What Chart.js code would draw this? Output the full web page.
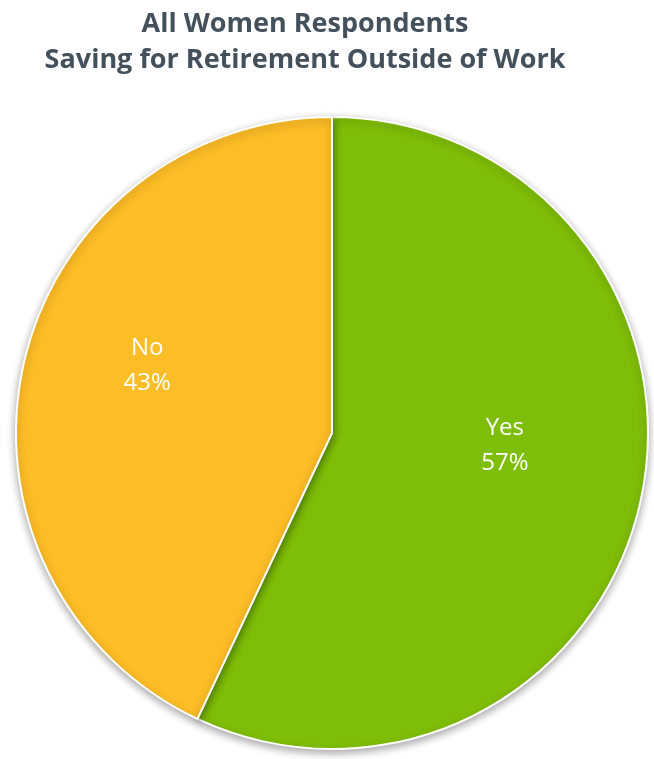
<!DOCTYPE html>
<html>
<head>
<meta charset="utf-8">
<script src="https://cdn.jsdelivr.net/npm/chart.js@4/dist/chart.umd.min.js"></script>
<style>
  html, body { margin: 0; padding: 0; background: #fff; }
  #wrap { width: 654px; height: 759px; }
</style>
</head>
<body>
<div id="wrap"><canvas id="graficaPastel" width="654" height="759"></canvas></div>
<script>
// Datos de la grafica
const etiquetas = ['Yes', 'No'];
const valores = [57, 43];
const colores = ['#7FBE08', '#FDBD27'];
const titulo = ['All Women Respondents', 'Saving for Retirement Outside of Work'];

// Titulo dibujado a mano (va un poco a la izquierda del centro)
const pluginTitulo = {
    id: 'tituloPropio',
    afterDraw(chart) {
        const ctx = chart.ctx;
        ctx.save();
        ctx.fillStyle = '#44505C';
        ctx.font = 'bold 27px "Open Sans"';
        ctx.textAlign = 'center';
        ctx.textBaseline = 'alphabetic';
        titulo.forEach((linea, i) => ctx.fillText(linea, 305, 32 + i * 36));
        ctx.restore();
    }
};

// Sombra debajo del pastel
const pluginSombra = {
    id: 'sombra',
    beforeDatasetsDraw(chart) {
        const ctx = chart.ctx;
        ctx.save();
        ctx.shadowColor = 'rgba(0,0,0,0.35)';
        ctx.shadowBlur = 8;
        ctx.shadowOffsetY = 3;
    },
    afterDatasetsDraw(chart) {
        chart.ctx.restore();
    }
};

// Etiquetas dentro de cada rebanada
const pluginEtiquetas = {
    id: 'etiquetas',
    afterDatasetsDraw(chart) {
        const ctx = chart.ctx;
        const meta = chart.getDatasetMeta(0);
        const total = valores.reduce((a, b) => a + b, 0);
        ctx.save();
        ctx.fillStyle = '#ffffff';
        ctx.font = '24px "Open Sans"';
        ctx.textAlign = 'center';
        ctx.textBaseline = 'middle';
        meta.data.forEach((arc, i) => {
            const p = arc.getProps(['x', 'y', 'startAngle', 'endAngle', 'outerRadius'], true);
            const medio = (p.startAngle + p.endAngle) / 2;
            const r = p.outerRadius * 0.58;
            const cx = p.x + Math.cos(medio) * r - 6;
            const cy = p.y + Math.sin(medio) * r - 28;
            ctx.fillText(etiquetas[i], cx, cy - 17);
            ctx.fillText(Math.round(valores[i] / total * 100) + '%', cx, cy + 18);
        });
        ctx.restore();
    }
};

const graficaPastel = document.getElementById('graficaPastel').getContext('2d');
const chart = new Chart(graficaPastel, {
    type: 'pie',
    data: {
        labels: etiquetas,
        datasets: [{
            data: valores,
            backgroundColor: colores,
            borderColor: '#ffffff',
            borderWidth: 2
        }]
    },
    options: {
        responsive: false,
        animation: false,
        layout: {
            padding: { top: 116, bottom: 9, left: 14, right: 4 }
        },
        plugins: {
            legend: { display: false },
            tooltip: { enabled: false },
            title: { display: false }
        }
    },
    plugins: [pluginSombra, pluginEtiquetas, pluginTitulo]
});
</script>
</body>
</html>
